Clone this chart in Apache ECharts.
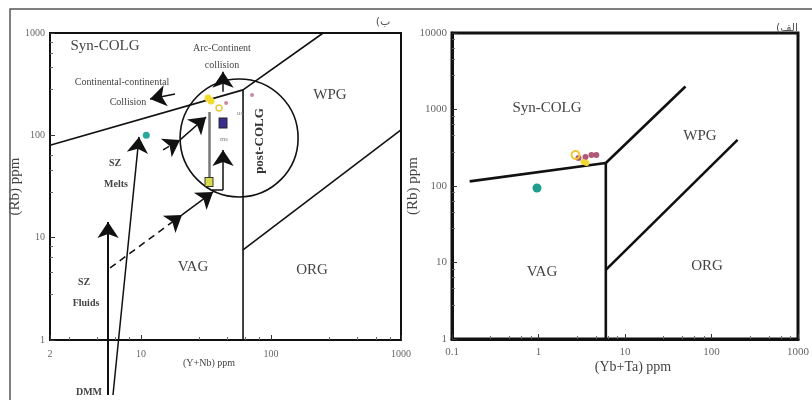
<!DOCTYPE html>
<html><head><meta charset="utf-8">
<script src="https://cdn.jsdelivr.net/npm/echarts@6/dist/echarts.min.js"></script>
<style>html,body{margin:0;padding:0;background:#fff}#c{width:812px;height:400px}</style>
</head><body><div id="c"></div>
<script>
// ---------- Left diagram: Rb vs (Y+Nb) ----------
const leftXTicks = [2, 10, 100, 1000];
const leftYTicks = [1, 10, 100, 1000];
const leftBoundaries = [
  [[2, 80], [61, 278]],
  [[61, 278], [252, 1000]],
  [[61, 278], [61, 1]],
  [[61, 7.6], [1000, 113]]
];
const leftTeal = [[11, 100]];
const leftYellow = [[32.8, 232], [34.6, 217]];
const leftYellowOpen = [[39.9, 185]];
const leftPink = [[45.2, 207], [71.6, 248]];
const leftPurpleSquare = [[42.8, 132]];
const leftYellowSquare = [[33.4, 35]];
// arrows (trend vectors) in data units
const arrowSZFluids = [[5.59, 0.29], [5.59, 14.2]];
const arrowSZMelts = [[6.1, 0.29], [9.67, 96.5]];
const arrowDashedLow = [[5.79, 5.06], [20.7, 16.7]];
const arrowLowUpper = [[20.7, 16.7], [35.9, 28.0]];
const arrowDashedMid = [[14.8, 72], [20, 90.2]];
const arrowMidUpper = [[20, 90.2], [31.7, 151]];
const greyVertical = [[33.4, 35], [33.4, 169]];
const lineLBase = [[35.2, 29.3], [42.8, 29.3]];
const arrowLUp = [[42.8, 29.3], [42.8, 72]];
const arrowArc = [[42.8, 266], [42.8, 417]];
const arrowContinental = [[18.3, 254], [11.75, 227]];
const circleCenter = [56.9, 94.3];

// ---------- Right diagram: Rb vs (Yb+Ta) ----------
const rightXTicks = [0.1, 1, 10, 100, 1000];
const rightYTicks = [1, 10, 100, 1000, 10000];
const rightBoundaries = [
  [[0.16, 115], [6, 200]],
  [[6, 200], [50, 2000]],
  [[6, 200], [6, 1]],
  [[6, 8], [200, 400]]
];
const rightTeal = [[0.96, 94]];
const rightYellowOpen = [[2.68, 254]];
const rightYellow = [[3.58, 200], [3.31, 206]];
const rightMaroon = [[2.9, 232], [3.49, 239], [4.09, 254], [4.66, 254]];

const SERIF = '"Liberation Serif", "DejaVu Serif", serif';
function makeFmt(ticks) {
  return function (v) {
    for (const t of ticks) {
      if (Math.abs(Math.log10(v) - Math.log10(t)) < 1e-4) return String(t);
    }
    return '';
  };
}

function logAxis(grid, min, max, fs, lw, margin, ticks) {
  return {
    type: 'log', logBase: 10, gridIndex: grid, min: min, max: max,
    splitNumber: 4,
    axisLine: { show: true, lineStyle: { color: '#111', width: lw } },
    axisTick: { show: true, inside: true, length: 5, lineStyle: { color: '#333', width: 1 } },
    minorTick: { show: true, splitNumber: 5, length: 3, lineStyle: { color: '#666', width: 1 } },
    splitLine: { show: false },
    axisLabel: { color: '#666', fontFamily: SERIF, fontSize: fs, margin: margin, formatter: makeFmt(ticks), hideOverlap: false }
  };
}

const chart = echarts.init(document.getElementById('c'));

function boundarySeries(list, xi, w) {
  return list.map(seg => ({
    type: 'line', xAxisIndex: xi, yAxisIndex: xi, data: seg, symbol: 'none',
    lineStyle: { color: '#111', width: w }, silent: true, z: 3
  }));
}
function arrow(coords, opts) {
  opts = opts || {};
  return {
    type: 'lines', coordinateSystem: 'cartesian2d', xAxisIndex: 0, yAxisIndex: 0,
    polyline: false, clip: false, silent: true, z: 4,
    symbol: opts.noArrow ? ['none', 'none'] : ['none', 'arrow'],
    symbolSize: opts.size || 16,
    lineStyle: { color: opts.color || '#111', width: opts.width || 1.5, type: opts.dash ? [7, 5] : 'solid', opacity: 1 },
    data: [{ coords: coords }]
  };
}
function scatter(data, xi, sym, size, color, border, bw) {
  return {
    type: 'scatter', xAxisIndex: xi, yAxisIndex: xi, data: data, symbol: sym, symbolSize: size,
    itemStyle: { color: color, borderColor: border || color, borderWidth: bw || 0, opacity: 1 }, z: 6
  };
}

const series = [].concat(
  boundarySeries(leftBoundaries, 0, 1.6),
  boundarySeries(rightBoundaries, 1, 2.6),
  [
    arrow(arrowSZFluids, { width: 2 }),
    arrow(arrowSZMelts, { width: 1.5 }),
    arrow(arrowDashedLow, { dash: true }),
    arrow(arrowLowUpper, {}),
    arrow(arrowDashedMid, { dash: true }),
    arrow(arrowMidUpper, {}),
    arrow(greyVertical, { noArrow: true, color: '#777', width: 2.5 }),
    arrow(lineLBase, { noArrow: true }),
    arrow(arrowLUp, {}),
    arrow(arrowArc, {}),
    arrow(arrowContinental, {}),
    scatter(leftTeal, 0, 'circle', 7, '#2aa79b'),
    scatter(leftYellow, 0, 'circle', 7, '#f2dc2a'),
    scatter(leftYellowOpen, 0, 'circle', 6, 'rgba(255,255,255,0)', '#e8c840', 1.5),
    scatter(leftPink, 0, 'circle', 4, '#c98aa6'),
    scatter(leftPurpleSquare, 0, 'rect', [8, 10], '#3b2f8f', '#222', 1),
    scatter(leftYellowSquare, 0, 'rect', [8, 9], '#d8db4a', '#333', 1),
    scatter(rightTeal, 1, 'circle', 9, '#1f9e8e'),
    scatter(rightMaroon, 1, 'circle', 6, '#b05878'),
    scatter(rightYellow, 1, 'circle', 6, '#f0d838'),
    scatter(rightYellowOpen, 1, 'circle', 8, 'rgba(255,255,255,0)', '#f0c830', 2)
  ]
);

const yName = { fontFamily: SERIF, fontSize: 15, color: '#444' };
chart.setOption({
  animation: false,
  backgroundColor: '#fff',
  grid: [
    { left: 50, top: 33, width: 351, height: 307, show: true, borderColor: '#111', borderWidth: 2, backgroundColor: 'transparent' },
    { left: 452, top: 33, width: 350, height: 306, show: true, borderColor: '#111', borderWidth: 3, backgroundColor: 'transparent' }
  ],
  xAxis: [
    logAxis(0, 2, 1000, 10, 2, 9, leftXTicks),
    logAxis(1, 0.1, 1000, 11, 3, 8, rightXTicks)
  ],
  yAxis: [
    Object.assign(logAxis(0, 1, 1000, 10, 2, 5, leftYTicks), {
      name: '(Rb) ppm', nameLocation: 'middle', nameGap: 27, nameRotate: 90, nameMoveOverlap: false,
      nameTextStyle: yName
    }),
    Object.assign(logAxis(1, 1, 10000, 11, 3, 5, rightYTicks), {
      name: '(Rb) ppm', nameLocation: 'middle', nameGap: 31, nameRotate: 90, nameMoveOverlap: false,
      nameTextStyle: yName
    })
  ],
  series: series
});

const c = chart.convertToPixel({ gridIndex: 0 }, circleCenter);
function txt(x, y, s, size, opts) {
  opts = opts || {};
  return {
    type: 'text', x: x, y: y, rotation: opts.rot || 0, z: 10,
    style: {
      text: s, fill: opts.color || '#444', align: 'center', verticalAlign: 'middle',
      font: (opts.bold ? 'bold ' : '') + size + 'px ' + (opts.family || SERIF)
    }
  };
}
chart.setOption({
  graphic: [
    { type: 'polyline', shape: { points: [[10, 400], [10, 9], [812, 9]] }, style: { stroke: '#555', lineWidth: 1.5, fill: null }, z: 1 },
    { type: 'circle', shape: { cx: c[0], cy: c[1], r: 59 }, style: { stroke: '#111', lineWidth: 1.6, fill: null }, z: 5 },
    // left panel texts
    txt(105, 46, 'Syn-COLG', 15),
    txt(222, 48, 'Arc-Continent', 10),
    txt(222, 65, 'collision', 10),
    txt(122, 82, 'Continental-continental', 10),
    txt(128, 102, 'Collision', 10),
    txt(330, 95, 'WPG', 15),
    txt(260, 141, 'post-COLG', 13, { rot: Math.PI / 2, bold: true, color: '#333' }),
    txt(115, 163, 'SZ', 10, { bold: true }),
    txt(116, 184, 'Melts', 10, { bold: true }),
    txt(193, 267, 'VAG', 15),
    txt(312, 270, 'ORG', 15),
    txt(84, 282, 'SZ', 10, { bold: true }),
    txt(86, 303, 'Fluids', 10, { bold: true }),
    txt(89, 392, 'DMM', 10, { bold: true }),
    txt(209, 363, '(Y+Nb) ppm', 10),
    txt(224, 139, 'ms', 7, { color: '#888' }),
    txt(240, 113, 'us', 7, { color: '#888' }),
    txt(383, 22, '(ب', 11, { family: '"DejaVu Sans", sans-serif', color: '#555' }),
    // right panel texts
    txt(547, 108, 'Syn-COLG', 15),
    txt(700, 136, 'WPG', 15),
    txt(542, 272, 'VAG', 15),
    txt(707, 266, 'ORG', 15),
    txt(633, 367, '(Yb+Ta) ppm', 14),
    txt(787, 28, '(الف', 11, { family: '"DejaVu Sans", sans-serif', color: '#555' })
  ]
});
</script></body></html>
